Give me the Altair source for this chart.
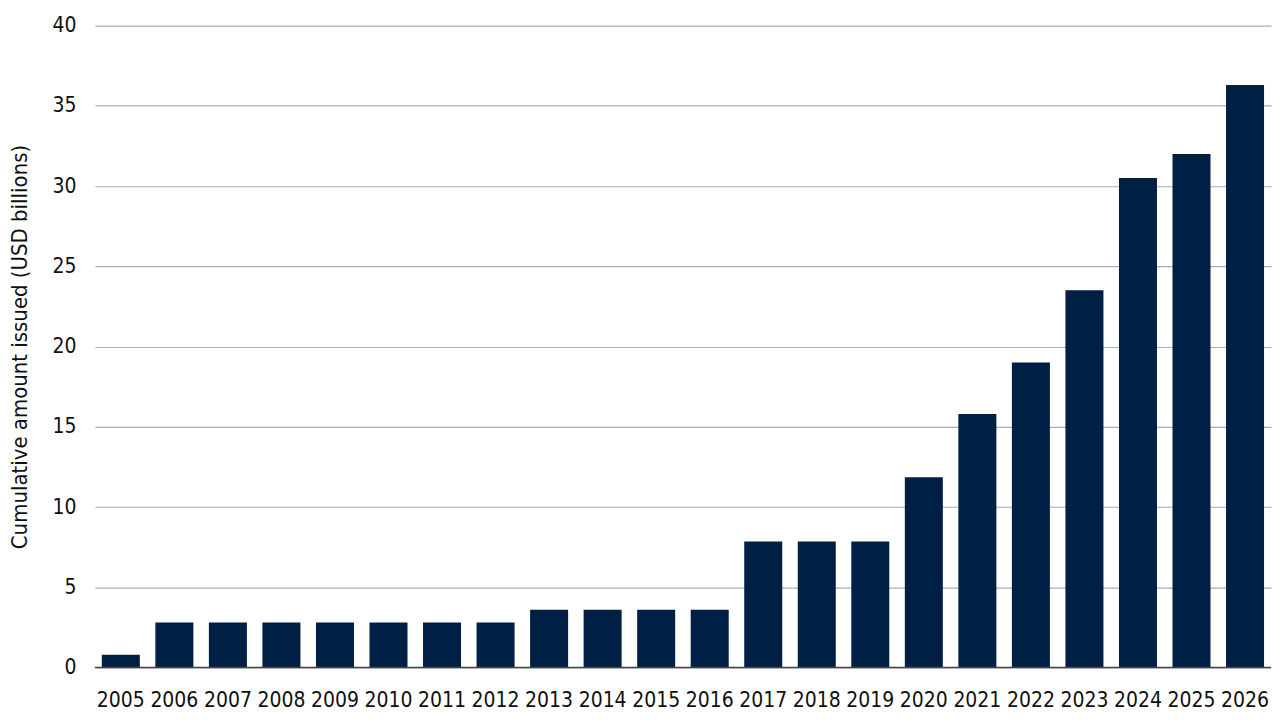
import pandas as pd
import altair as alt

# cumulative issuance by year
years = [str(y) for y in range(2005, 2027)]
amounts = [0.8, 2.8, 2.8, 2.8, 2.8, 2.8, 2.8, 2.8,
           3.6, 3.6, 3.6, 3.6,
           7.85, 7.85, 7.85,
           11.85, 15.8, 19.0, 23.5, 30.5, 32.0, 36.3]
y_ticks = [0, 5, 10, 15, 20, 25, 30, 35, 40]

FONT = "DejaVu Sans Condensed, sans-serif"
NAVY = "#001f45"

df = pd.DataFrame({'year': years, 'amount': amounts})

bars = alt.Chart(df).mark_bar(color=NAVY).encode(
    x=alt.X('year:N',
            scale=alt.Scale(paddingInner=0.29, paddingOuter=0.13),
            axis=alt.Axis(title=None, labelAngle=0, ticks=False,
                          domain=False, labelPadding=22,
                          labelFontSize=21, labelColor='#111111')),
    y=alt.Y('amount:Q',
            scale=alt.Scale(domain=[0, 40], nice=False),
            axis=alt.Axis(values=y_ticks, title='Cumulative amount issued (USD billions)',
                          ticks=False, domain=False, labelPadding=19,
                          labelFontSize=21, labelColor='#111111',
                          titleFontSize=22, titleFontWeight='normal',
                          titleColor='#111111', titlePadding=20,
                          gridColor='#a9adbd', gridWidth=1.2)),
)

# baseline at zero
base_line = alt.Chart(pd.DataFrame({'v': [0]})).mark_rule(color='#444444', strokeWidth=1.5).encode(
    y='v:Q'
)

chart = (bars + base_line).properties(
    width=1178,
    height=643,
    padding={"left": 0, "top": 6, "right": 0, "bottom": 0},
).configure_axis(
    labelFont=FONT,
    titleFont=FONT,
).configure_view(
    stroke=None
)

chart.save("out.html", embed_options={"renderer": "svg", "actions": False})
